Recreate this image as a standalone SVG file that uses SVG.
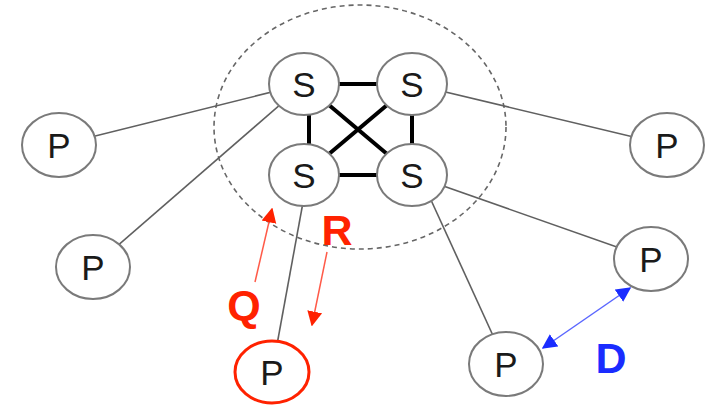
<svg xmlns="http://www.w3.org/2000/svg" width="710" height="405" viewBox="0 0 710 405">
  <defs>
    <style>
      .link { stroke: #606060; stroke-width: 1.6; fill: none; }
      .core { stroke: #000; stroke-width: 4; fill: none; }
      .node { fill: #fff; stroke: #7a7a7a; stroke-width: 2; }
      .hot { fill: #fff; stroke: #ff2200; stroke-width: 3; }
      .lbl { font-family: "Liberation Sans", Arial, sans-serif; font-size: 35px; fill: #1a1a1a; text-anchor: middle; }
      .big { font-family: "Liberation Sans", Arial, sans-serif; font-size: 43px; font-weight: bold; text-anchor: middle; }
    </style>
    <marker id="headRed" viewBox="0 0 10 10" refX="9" refY="5" markerWidth="10" markerHeight="11" orient="auto">
      <path d="M0,0 L10,5 L0,10 z" fill="#ff2200"/>
    </marker>
    <marker id="headBlue" viewBox="0 0 10 10" refX="9" refY="5" markerWidth="10" markerHeight="11" orient="auto-start-reverse">
      <path d="M0,0 L10,5 L0,10 z" fill="#1a2cff"/>
    </marker>
  </defs>

  <rect width="710" height="405" fill="#fff"/>

  <!-- cluster boundary -->
  <ellipse cx="360" cy="127" rx="146" ry="122" fill="none" stroke="#666" stroke-width="1.6" stroke-dasharray="5 4"/>

  <g id="connectors">
    <!-- peer links -->
    <line class="link" x1="59" y1="145" x2="304" y2="84"/>
    <line class="link" x1="93" y1="267" x2="304" y2="84"/>
    <line class="link" x1="412" y1="84" x2="667" y2="145"/>
    <line class="link" x1="412" y1="175" x2="651" y2="259"/>
    <line class="link" x1="420" y1="176" x2="506" y2="364"/>
    <line class="link" x1="308" y1="175" x2="272" y2="372"/>
    <!-- super-peer mesh -->
    <line class="core" x1="304" y1="84" x2="412" y2="84"/>
    <line class="core" x1="304" y1="175" x2="412" y2="175"/>
    <line class="core" x1="309" y1="84" x2="309" y2="175"/>
    <line class="core" x1="412" y1="84" x2="412" y2="175"/>
    <line class="core" x1="304" y1="84" x2="412" y2="175"/>
    <line class="core" x1="412" y1="84" x2="304" y2="175"/>
    <!-- query / response -->
    <line x1="255" y1="282" x2="272" y2="209" stroke="#ff5a48" stroke-width="1.5" marker-end="url(#headRed)"/>
    <line x1="327" y1="252" x2="312" y2="325" stroke="#ff5a48" stroke-width="1.5" marker-end="url(#headRed)"/>
    <!-- distance -->
    <line x1="543" y1="348" x2="630" y2="288" stroke="#5a66ff" stroke-width="1.5" marker-start="url(#headBlue)" marker-end="url(#headBlue)"/>
  </g>

  <g id="s1"><ellipse class="node" cx="304" cy="84" rx="35" ry="31"/><text class="lbl" x="304" y="97">S</text></g>
  <g id="s2"><ellipse class="node" cx="412" cy="84" rx="35" ry="31"/><text class="lbl" x="412" y="97">S</text></g>
  <g id="s3"><ellipse class="node" cx="304" cy="175" rx="35" ry="31"/><text class="lbl" x="304" y="188">S</text></g>
  <g id="s4"><ellipse class="node" cx="412" cy="175" rx="35" ry="31"/><text class="lbl" x="412" y="188">S</text></g>

  <g id="p1"><ellipse class="node" cx="59" cy="145" rx="37" ry="32"/><text class="lbl" x="59" y="158">P</text></g>
  <g id="p2"><ellipse class="node" cx="93" cy="267" rx="37" ry="32"/><text class="lbl" x="93" y="280">P</text></g>
  <g id="p3"><ellipse class="node" cx="667" cy="145" rx="37" ry="32"/><text class="lbl" x="667" y="158">P</text></g>
  <g id="p4"><ellipse class="node" cx="651" cy="259" rx="37" ry="32"/><text class="lbl" x="651" y="272">P</text></g>
  <g id="p5"><ellipse class="node" cx="506" cy="364" rx="37" ry="32"/><text class="lbl" x="506" y="377">P</text></g>
  <g id="p6"><ellipse class="hot" cx="272" cy="372" rx="37" ry="31"/><text class="lbl" x="272" y="385">P</text></g>

  <text class="big" x="244" y="320" fill="#ff2200">Q</text>
  <text class="big" x="337" y="245" fill="#ff2200">R</text>
  <text class="big" x="611" y="373" fill="#1a2cff">D</text>
</svg>
